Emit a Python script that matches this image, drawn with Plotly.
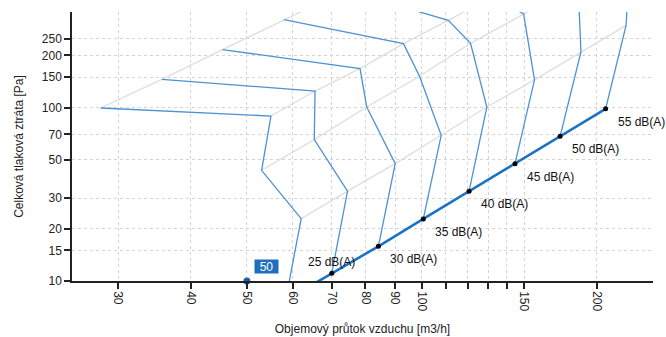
import math
import plotly.graph_objects as go

# ---- data ----
levels = [20, 25, 30, 35, 40, 45, 50, 55]          # dB(A) iso-lines
labeled_levels = [25, 30, 35, 40, 45, 50, 55]

# points of each damper-position line (gray) at every dB level
g1_x = [28.0, 35.7, 45.4, 57.9, 73.9, None, None, None]
g1_y = [99.5, 145.6, 216.0, 321.8, 474.6, None, None, None]
g2_x = [55.0, 65.5, 78.3, 93.0, 111.1, 132.4, None, None]
g2_y = [89.4, 124.6, 167.9, 233.9, 318.8, 437.5, None, None]
g3_x = [53.0, 65.3, 80.4, 99.1, 121.3, 149.7, 185.8, 228.3]
g3_y = [43.5, 65.4, 100.8, 151.6, 234.9, 347.0, 514.0, 755.0]
g4_x = [62.0, 74.5, 90.0, 108.0, 129.4, 156.3, 187.9, 224.7]
g4_y = [22.9, 33.0, 47.5, 69.2, 100.8, 144.6, 209.2, 298.3]

# system curve (thick line) with dB points
sys_x = [58.3, 70.0, 84.2, 100.6, 120.6, 144.7, 173.0, 207.2]
sys_y = [7.74, 11.1, 15.85, 22.8, 32.9, 47.5, 68.3, 98.4]

# operating point
op_x = [50]
op_y = [10]
op_label = "50"

x_tickvals = [30, 40, 50, 60, 70, 80, 90, 100, 110, 120, 130, 140, 150, 200]
x_ticktext = ["30", "40", "50", "60", "70", "80", "90", "100", "", "", "", "", "150", "200"]
y_tickvals = [10, 15, 20, 30, 50, 70, 100, 150, 200, 250]
y_ticktext = ["10", "15", "20", "30", "50", "70", "100", "150", "200", "250"]

x_title = "Objemový průtok vzduchu [m3/h]"
y_title = "Celková tlaková ztráta [Pa]"

THIN = "#4d92d2"
THICK = "#1a73c4"
GRAY = "#dedede"
FONT = "Liberation Sans, Arial, sans-serif"

positions = [(g1_x, g1_y), (g2_x, g2_y), (g3_x, g3_y), (g4_x, g4_y), (sys_x, sys_y)]

fig = go.Figure()

# gray damper-position lines
for gx, gy in positions[:4]:
    xs = [v for v in gx if v is not None]
    ys = [v for v in gy if v is not None]
    fig.add_trace(go.Scatter(x=xs, y=ys, mode="lines",
                             line=dict(color=GRAY, width=1.3),
                             hoverinfo="skip", showlegend=False))

# blue iso-dB lines
for i, lv in enumerate(levels):
    xs, ys = [], []
    for px, py in positions:
        if px[i] is not None:
            xs.append(px[i])
            ys.append(py[i])
    fig.add_trace(go.Scatter(x=xs, y=ys, mode="lines",
                             line=dict(color=THIN, width=1.3),
                             name=f"{lv} dB(A)", showlegend=False))

# thick system curve
fig.add_trace(go.Scatter(x=sys_x, y=sys_y, mode="lines",
                         line=dict(color=THICK, width=2.6),
                         showlegend=False))

# dB points with labels
pts_x = [sys_x[levels.index(l)] for l in labeled_levels]
pts_y = [sys_y[levels.index(l)] for l in labeled_levels]
fig.add_trace(go.Scatter(x=pts_x, y=pts_y, mode="markers",
                         marker=dict(color="black", size=5),
                         showlegend=False))

for l, px, py in zip(labeled_levels, pts_x, pts_y):
    if l == labeled_levels[0]:
        fig.add_annotation(x=math.log10(px), y=math.log10(py), text=f"{l} dB(A)",
                           showarrow=False, xanchor="center", yanchor="middle",
                           yshift=11, font=dict(family=FONT, size=12, color="#111"))
    else:
        fig.add_annotation(x=math.log10(px), y=math.log10(py), text=f"{l} dB(A)",
                           showarrow=False, xanchor="left", yanchor="middle",
                           xshift=10, yshift=-13, font=dict(family=FONT, size=12, color="#111"))

# operating point
fig.add_trace(go.Scatter(x=op_x, y=op_y, mode="markers",
                         marker=dict(color="#1a5fa8", size=7),
                         cliponaxis=False, showlegend=False))
fig.add_annotation(x=math.log10(op_x[0]), y=math.log10(op_y[0]), text=op_label,
                   showarrow=False, xanchor="center", yanchor="middle",
                   xshift=20, yshift=15, bgcolor="#1f6fc0", width=23, height=13,
                   borderpad=0, font=dict(family=FONT, size=12, color="white"))

axis_common = dict(
    type="log", showline=True, linecolor="#222", linewidth=1.5,
    ticks="outside", ticklen=6, tickcolor="#222", tickwidth=1.5,
    showgrid=True, gridcolor="#d4d4d4", griddash="dot", gridwidth=1,
    zeroline=False, tickfont=dict(family=FONT, size=12, color="#222"),
    mirror=False, automargin=False,
)

fig.update_layout(
    width=666, height=337,
    margin=dict(l=72, r=13, t=12, b=56),
    paper_bgcolor="white", plot_bgcolor="white",
    font=dict(family=FONT, size=12, color="#222"),
    xaxis=dict(axis_common, range=[math.log10(25), math.log10(250)],
               tickvals=x_tickvals, ticktext=x_ticktext, tickangle=90,
               title=dict(text=x_title, font=dict(family=FONT, size=12, color="#222"), standoff=14)),
    yaxis=dict(axis_common, range=[1, math.log10(356)],
               tickvals=y_tickvals, ticktext=y_ticktext,
               title=dict(text=y_title, font=dict(family=FONT, size=12, color="#222"), standoff=16)),
)

# remove the default 8px page margin so the 666x337 figure fills the window exactly
fig.write_html("out.html", config={"displayModeBar": False},
               post_script="document.body.style.margin='0';")
